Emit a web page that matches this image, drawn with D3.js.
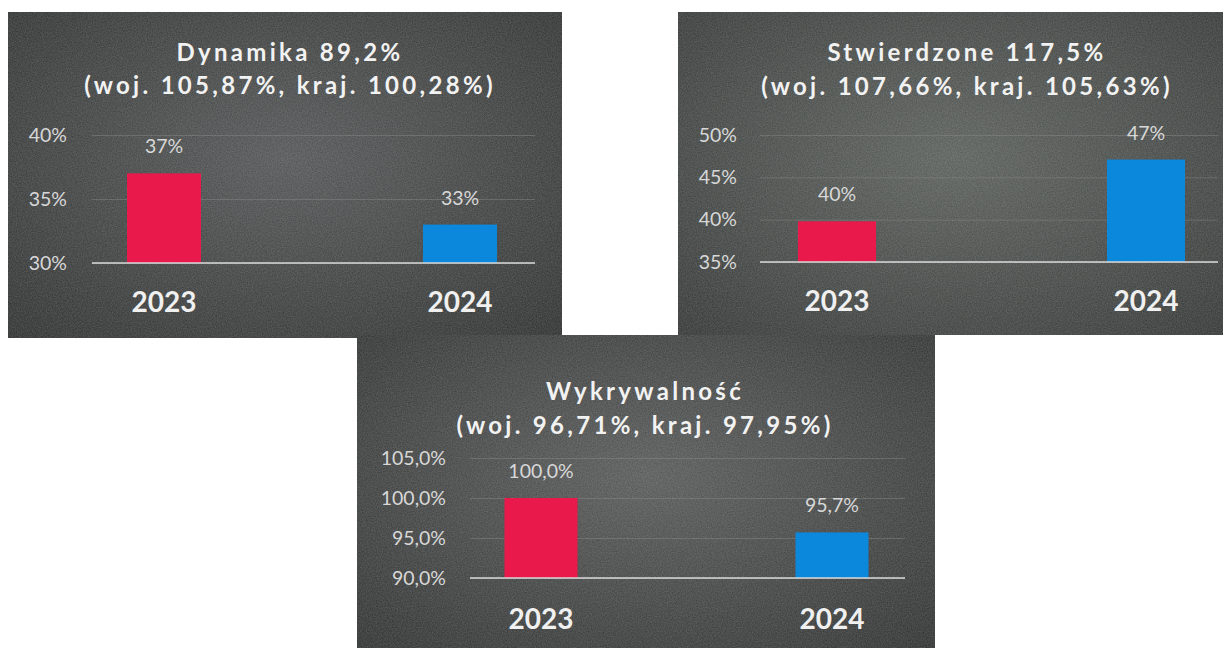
<!DOCTYPE html>
<html>
<head>
<meta charset="utf-8">
<script src="https://cdn.jsdelivr.net/npm/d3@7/dist/d3.min.js"></script>
<style>
  html, body { margin: 0; padding: 0; background: #ffffff; }
  svg { display: block; }
</style>
</head>
<body>
<svg id="chart" width="1223" height="648"></svg>
<script>
// ---------------- DATA ----------------
const categories = ["2023", "2024"];

const titleDynamika = ["Dynamika 89,2%", "(woj. 105,87%, kraj. 100,28%)"];
const valuesDynamika = [37, 33];
const ticksDynamika = [30, 35, 40];

const titleStwierdzone = ["Stwierdzone 117,5%", "(woj. 107,66%, kraj. 105,63%)"];
const valuesStwierdzone = [39.8, 47.1];
const ticksStwierdzone = [35, 40, 45, 50];

const titleWykrywalnosc = ["Wykrywalność", "(woj. 96,71%, kraj. 97,95%)"];
const valuesWykrywalnosc = [100.0, 95.7];
const ticksWykrywalnosc = [90, 95, 100, 105];

const barColors = ["#e9194b", "#0b87dc"];

// ---------------- LAYOUT ----------------
const fmtInt = v => d3.format(".0f")(v) + "%";
const fmtDec = v => d3.format(".1f")(v).replace(".", ",") + "%";

const panels = [
  { title: titleDynamika, values: valuesDynamika, ticks: ticksDynamika, fmt: fmtInt,
    box: [8, 12, 554, 326], titleX: 290, titleY: [61, 94],
    xPts: [164, 460], barW: 74, grid: [92, 535], yRange: [263, 135], labelX: 67,
    catY: 312, bg: ["#535656", "#2d2e2e"] },
  { title: titleStwierdzone, values: valuesStwierdzone, ticks: ticksStwierdzone, fmt: fmtInt,
    box: [678, 12, 545, 323], titleX: 967, titleY: [61, 95],
    xPts: [837, 1146], barW: 78, grid: [760, 1218], yRange: [262, 135], labelX: 737,
    catY: 311, bg: ["#5a5f5c", "#323533"] },
  { title: titleWykrywalnosc, values: valuesWykrywalnosc, ticks: ticksWykrywalnosc, fmt: fmtDec,
    box: [357, 335, 578, 313], titleX: 645, titleY: [400, 434],
    xPts: [541, 832], barW: 73, grid: [470, 905], yRange: [578, 458], labelX: 446,
    catY: 629, bg: ["#575a59", "#2e2f2f"] }
];

const svg = d3.select("#chart");
const defs = svg.append("defs");

// noise texture
const noise = defs.append("filter").attr("id", "noise").attr("x", 0).attr("y", 0)
  .attr("width", "100%").attr("height", "100%");
noise.append("feTurbulence").attr("type", "fractalNoise").attr("baseFrequency", 0.8)
  .attr("numOctaves", 2).attr("seed", 3).attr("result", "t");
noise.append("feColorMatrix").attr("type", "matrix")
  .attr("values", "0 0 0 0 1  0 0 0 0 1  0 0 0 0 1  0 0 0 0.22 -0.02");

panels.forEach((p, i) => {
  const [bx, by, bw, bh] = p.box;
  const g = svg.append("g");

  const grad = defs.append("radialGradient").attr("id", "bg" + i)
    .attr("cx", "50%").attr("cy", "45%").attr("r", "75%");
  grad.append("stop").attr("offset", "0%").attr("stop-color", p.bg[0]);
  grad.append("stop").attr("offset", "100%").attr("stop-color", p.bg[1]);

  g.append("rect").attr("x", bx).attr("y", by).attr("width", bw).attr("height", bh)
    .attr("fill", `url(#bg${i})`);
  g.append("rect").attr("x", bx).attr("y", by).attr("width", bw).attr("height", bh)
    .attr("filter", "url(#noise)").attr("fill", "#fff");

  // title
  p.title.forEach((t, k) => {
    g.append("text").attr("x", p.titleX).attr("y", p.titleY[k])
      .attr("text-anchor", "middle")
      .style("font-family", "Lato, 'Open Sans', sans-serif")
      .style("font-weight", 700).style("font-size", "24px")
      .style("letter-spacing", "3.3px")
      .attr("fill", "#f2f2f2")
      .text(t);
  });

  const x = d3.scalePoint().domain(categories).range(p.xPts);
  const y = d3.scaleLinear().domain([p.ticks[0], p.ticks[p.ticks.length - 1]]).range(p.yRange);

  // gridlines + tick labels
  const yAxis = d3.axisLeft(y).tickValues(p.ticks).tickSize(-(p.grid[1] - p.grid[0]))
    .tickFormat(p.fmt).tickPadding(p.grid[0] - p.labelX);
  const ag = g.append("g").attr("transform", `translate(${p.grid[0]},0)`).call(yAxis);
  ag.select(".domain").remove();
  ag.selectAll(".tick line").attr("stroke", "#8a8c8a").attr("stroke-opacity", 0.45)
    .attr("stroke-width", 1);
  ag.selectAll(".tick text")
    .style("font-family", "Lato, 'Open Sans', sans-serif")
    .style("font-size", "19.5px").attr("fill", "#d8d8d8");

  // bars
  g.selectAll("rect.bar").data(p.values).join("rect").attr("class", "bar")
    .attr("x", (d, j) => x(categories[j]) - p.barW / 2)
    .attr("width", p.barW)
    .attr("y", d => y(d))
    .attr("height", d => y(p.ticks[0]) - y(d))
    .attr("fill", (d, j) => barColors[j]);

  // baseline
  g.append("line").attr("x1", p.grid[0]).attr("x2", p.grid[1])
    .attr("y1", y(p.ticks[0])).attr("y2", y(p.ticks[0]))
    .attr("stroke", "#d9d9d9").attr("stroke-width", 1.5);

  // value labels
  g.selectAll("text.val").data(p.values).join("text").attr("class", "val")
    .attr("x", (d, j) => x(categories[j]))
    .attr("y", d => y(d) - 20)
    .attr("text-anchor", "middle")
    .style("font-family", "Lato, 'Open Sans', sans-serif")
    .style("font-size", "19.5px").attr("fill", "#d8d8d8")
    .text(d => p.fmt(d));

  // category labels
  g.selectAll("text.cat").data(categories).join("text").attr("class", "cat")
    .attr("x", d => x(d)).attr("y", p.catY)
    .attr("text-anchor", "middle")
    .style("font-family", "Lato, 'Open Sans', sans-serif")
    .style("font-weight", 700).style("font-size", "28px")
    .attr("fill", "#f0f0f0")
    .text(d => d);
});
</script>
</body>
</html>
